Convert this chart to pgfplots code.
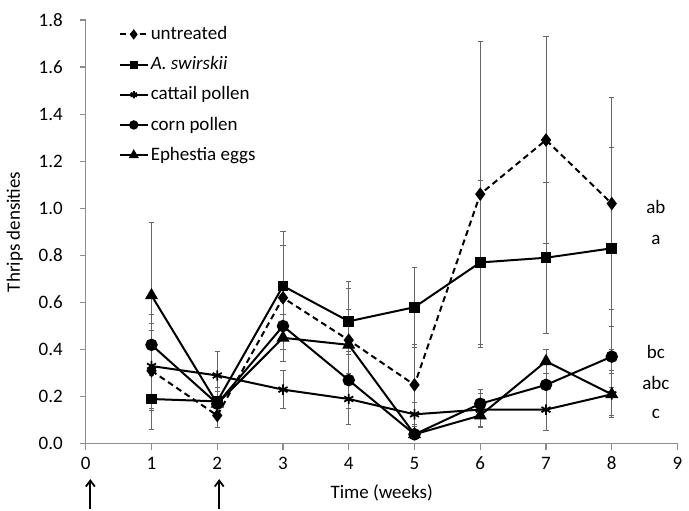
\documentclass[border=0pt]{standalone}
\usepackage{fontspec}
\setmainfont{Carlito}
\usepackage{pgfplots}
\pgfplotsset{compat=1.18}
\usetikzlibrary{arrows.meta}

\begin{document}
\begin{tikzpicture}[font=\fontsize{9.5pt}{11pt}\selectfont]
\begin{axis}[
  scale only axis,
  width=296pt, height=212pt,
  xmin=0, xmax=9, ymin=0, ymax=1.8,
  axis lines*=left,
  axis line style={black!45, line width=0.6pt},
  xtick={0,...,9}, ytick={0,0.2,...,1.8},
  tick style={black!45, line width=0.6pt},
  tick align=outside,
  major tick length=3pt,
  yticklabel style={xshift=-5pt, /pgf/number format/.cd, fixed, fixed zerofill, precision=1},
  /pgf/number format/assume math mode=true,
  xlabel={Time (weeks)}, ylabel={Thrips densities},
  xlabel style={yshift=-0.5pt},
  ylabel style={yshift=1pt},
  clip=false,
  legend style={at={(0.045,1.0)}, anchor=north west, draw=none, fill=none,
    row sep=5pt, nodes={inner sep=1pt}},
  legend cell align=left,
  legend image code/.code={
    \draw[#1] (0pt,0pt) -- (14pt,0pt);
    \draw[#1, solid, mark options={scale=0.7}] plot coordinates {(7pt,0pt)};
  },
  every axis plot/.append style={black, line width=1pt, mark options={solid, fill=black}},
  error bars/y dir=both, error bars/y explicit,
  error bars/error bar style={black!60, line width=0.5pt, solid},
  error bars/error mark options={rotate=90, black!60, mark size=1.3pt, line width=0.5pt},
]
% untreated
\addplot[dashed, dash pattern=on 3pt off 2pt, mark=diamond*, mark size=2.6pt]
  coordinates {(1,0.31) +- (0,0.17) (2,0.12) +- (0,0.05) (3,0.62) +- (0,0.22)
    (4,0.44) +- (0,0.25) (5,0.25) +- (0,0.17) (6,1.06) +- (0,0.65)
    (7,1.29) +- (0,0.44) (8,1.02) +- (0,0.45)};
\addlegendentry{untreated}
% A. swirskii
\addplot[mark=square*, mark size=2.2pt]
  coordinates {(1,0.19) +- (0,0.13) (2,0.18) +- (0,0.06) (3,0.67) +- (0,0.23)
    (4,0.52) +- (0,0.14) (5,0.58) +- (0,0.17) (6,0.77) +- (0,0.35)
    (7,0.79) +- (0,0.32) (8,0.83) +- (0,0.43)};
\addlegendentry{\itshape A. swirskii}
% cattail pollen
\addplot[mark=asterisk, mark size=2.6pt, mark options={line width=0.9pt}]
  coordinates {(1,0.33) +- (0,0.18) (2,0.29) +- (0,0.10) (3,0.23) +- (0,0.08)
    (4,0.19) +- (0,0.11) (5,0.125) +- (0,0.05) (6,0.145) +- (0,0.07)
    (7,0.145) +- (0,0.09) (8,0.21) +- (0,0.09)};
\addlegendentry{cattail pollen}
% corn pollen
\addplot[mark=*, mark size=2.6pt]
  coordinates {(1,0.42) +- (0,0.13) (2,0.17) +- (0,0.05) (3,0.50) +- (0,0.15)
    (4,0.27) +- (0,0.12) (5,0.04) +- (0,0.02) (6,0.17) +- (0,0.06)
    (7,0.25) +- (0,0.10) (8,0.37) +- (0,0.13)};
\addlegendentry{corn pollen}
% Ephestia eggs
\addplot[mark=triangle*, mark size=2.8pt]
  coordinates {(1,0.63) +- (0,0.31) (2,0.17) +- (0,0.05) (3,0.45) +- (0,0.10)
    (4,0.42) +- (0,0.15) (5,0.04) +- (0,0.02) (6,0.12) +- (0,0.05)
    (7,0.35) +- (0,0.05) (8,0.21) +- (0,0.10)};
\addlegendentry{Ephestia eggs}

% significance letters
\node at (axis cs:8.67,1.005) {ab};
\node at (axis cs:8.67,0.866) {a};
\node at (axis cs:8.67,0.39) {bc};
\node at (axis cs:8.67,0.258) {abc};
\node at (axis cs:8.67,0.127) {c};

% release arrows
\draw[-{Straight Barb[length=3pt,width=4.5pt]}, line width=0.9pt, black]
  (axis cs:0.07,-0.278) -- (axis cs:0.07,-0.15);
\draw[-{Straight Barb[length=3pt,width=4.5pt]}, line width=0.9pt, black]
  (axis cs:2.03,-0.278) -- (axis cs:2.03,-0.15);

% headroom above the plot
\path (rel axis cs:0,1.047);
\end{axis}
\end{tikzpicture}
\end{document}
